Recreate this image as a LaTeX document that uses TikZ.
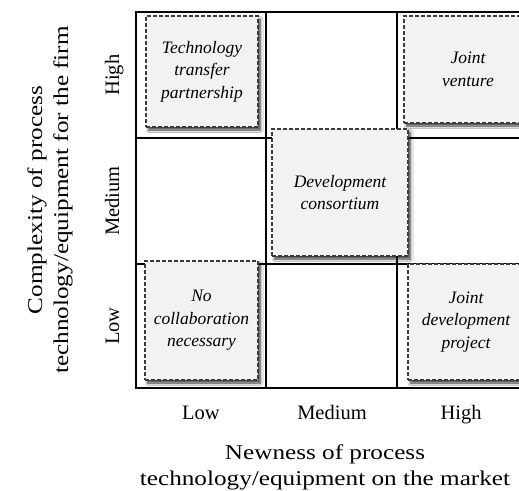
\documentclass[tikz,border=0pt]{standalone}
\usepackage{fontspec}
\setmainfont{Liberation Serif}
\newfontfamily\widefont[FakeStretch=1.2]{Liberation Serif}
\usetikzlibrary{shadows.blur}
\definecolor{boxfill}{HTML}{F2F2F2}
\definecolor{boxline}{HTML}{3A3A3A}
\tikzset{
  cellbox/.style={draw=boxline, fill=boxfill, line width=1.3pt, dash pattern=on 4pt off 2pt,
    inner sep=0pt, align=center, font=\fontsize{17.5}{22.5}\selectfont\itshape,
    blur shadow={shadow xshift=2.5pt, shadow yshift=-3pt, shadow blur steps=6, shadow opacity=75, shadow blur radius=2.5pt}},
  axlabel/.style={font=\fontsize{20.5}{25}\selectfont, inner sep=0pt, anchor=base},
  axtitle/.style={font=\widefont\fontsize{21}{26}\selectfont, align=center, inner sep=0pt},
  gridline/.style={line width=1.1pt, draw=black}
}
\begin{document}
\begin{tikzpicture}[x=1pt,y=-1pt]
\clip (0,0) rectangle (519,490);
\fill[white] (0,0) rectangle (519,490);
% grid
\draw[gridline] (136,12) rectangle (528,388);
\draw[gridline] (266,12) -- (266,388);
\draw[gridline] (397,12) -- (397,388);
\draw[gridline] (136,138) -- (528,138);
\draw[gridline] (136,264) -- (528,264);
% boxes
\node[cellbox, minimum width=112pt, minimum height=111pt] (ttp) at (202,71.5) {Technology\\transfer\\partnership};
\node[cellbox, minimum width=128pt, minimum height=107pt] (jv) at (468,69.5) {Joint\\venture};
\node[cellbox, minimum width=136pt, minimum height=127pt] (dc) at (340,192.5) {Development\\consortium};
\node[cellbox, minimum width=113pt, minimum height=119pt] (ncn) at (201.5,320.5) {No\\collaboration\\necessary};
\node[cellbox, minimum width=116pt, minimum height=116pt] (jdp) at (466,322) {Joint\\development\\project};
% row labels
\node[axlabel, rotate=90] (rhigh) at (119,75) {High};
\node[axlabel, rotate=90] (rmed) at (119,201) {Medium};
\node[axlabel, rotate=90] (rlow) at (119,326) {Low};
% column labels
\node[axlabel] (clow) at (201,419) {Low};
\node[axlabel] (cmed) at (332,419) {Medium};
\node[axlabel] (chigh) at (461,419) {High};
% axis titles
\node[axtitle, rotate=90] (ytitle) at (50,200) {Complexity of process\\technology/equipment for the firm};
\node[axtitle] (xtitle) at (325,467) {Newness of process\\technology/equipment on the market};
\end{tikzpicture}
\end{document}
